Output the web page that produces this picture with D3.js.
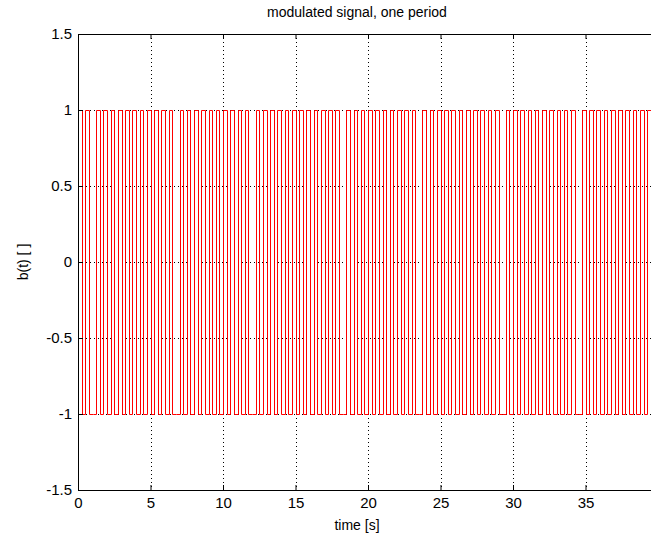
<!DOCTYPE html>
<html>
<head>
<meta charset="utf-8">
<script src="https://cdn.jsdelivr.net/npm/d3@7"></script>
<style>
  body { margin: 0; background: #fff; }
  text { font-family: "Liberation Sans", Arial, sans-serif; }
</style>
</head>
<body>
<svg id="chart" width="651" height="540"></svg>
<script>
// signal: one level per 0.25 s slot (1 = +1, 0 = -1),
// wide low gaps seen near 1, 6.7, 11.7, 17.9, 23.4, 28.8 and 34.6 s
const slotSeconds = 0.25;
const slotBits = [
  "10100",
  "10101010101010101010100",
  "101010101010101010100",
  "1010101010101010101010100",
  "101010101010101010100",
  "10101010101010101010100",
  "101010101010101010100",
  "101010101010101010101"
].join("");
const xTicks = [0, 5, 10, 15, 20, 25, 30, 35];
const yTicks = [-1.5, -1, -0.5, 0, 0.5, 1, 1.5];
const xGrid = [5, 10, 15, 20, 25, 30, 35];
const yGrid = [-1, -0.5, 0, 0.5, 1];

const svg = d3.select("#chart");
const margin = { top: 34, left: 78 };
const plotHeight = 456;
const plotWidth = 580; // right part runs off the picture

const x = d3.scaleLinear().domain([0, 40]).range([0, plotWidth]);
const y = d3.scaleLinear().domain([-1.5, 1.5]).range([plotHeight, 0]);

const graph = svg.append("g")
  .attr("transform", `translate(${margin.left}, ${margin.top})`);

// grid
graph.selectAll("line.vgrid").data(xGrid).enter().append("line")
  .attr("x1", d => Math.round(x(d)) + 0.5).attr("x2", d => Math.round(x(d)) + 0.5)
  .attr("y1", 0).attr("y2", plotHeight)
  .attr("stroke", "#000").attr("stroke-dasharray", "1,3");
graph.selectAll("line.hgrid").data(yGrid).enter().append("line")
  .attr("x1", 0).attr("x2", plotWidth)
  .attr("y1", d => Math.round(y(d)) + 0.5).attr("y2", d => Math.round(y(d)) + 0.5)
  .attr("stroke", "#000").attr("stroke-dasharray", "1,3");

// signal
const points = [];
slotBits.split("").forEach((b, i) => {
  points.push({ t: i * slotSeconds, v: b === "1" ? 1 : -1 });
});
points.push({ t: slotBits.length * slotSeconds, v: points[points.length - 1].v });

const line = d3.line()
  .x(d => Math.round(x(d.t)) + 0.5)
  .y(d => Math.round(y(d.v)) + 0.5)
  .curve(d3.curveStepAfter);

graph.append("path")
  .datum(points)
  .attr("d", line)
  .attr("fill", "none")
  .attr("stroke", "#ff0000")
  .attr("stroke-width", 1);

// axes (ticks inward)
const xAxis = d3.axisBottom(x).tickValues(xTicks).tickSize(-5).tickPadding(4)
  .tickFormat(d => String(d));
const yAxis = d3.axisLeft(y).tickValues(yTicks).tickSize(-5).tickPadding(6)
  .tickFormat(d => String(d));

const xAxisGroup = graph.append("g")
  .attr("transform", `translate(0, ${plotHeight})`).call(xAxis);
const yAxisGroup = graph.append("g").call(yAxis);
const topAxisGroup = graph.append("g")
  .call(d3.axisTop(x).tickValues(xTicks).tickSize(-5).tickFormat(""));

[xAxisGroup, yAxisGroup, topAxisGroup].forEach(g => {
  g.select(".domain").remove();
  g.selectAll("line").attr("stroke", "#000");
  g.selectAll("text").attr("fill", "#000").attr("font-size", 15);
});
xAxisGroup.selectAll("text").attr("dy", "0.9em");

// frame
graph.append("path")
  .attr("d", `M${plotWidth},0.5H0.5V${plotHeight + 0.5}H${plotWidth}`)
  .attr("fill", "none").attr("stroke", "#000");

// labels
svg.append("text")
  .attr("x", 357).attr("y", 17)
  .attr("text-anchor", "middle").attr("font-size", 14)
  .text("modulated signal, one period");
svg.append("text")
  .attr("x", 357).attr("y", 530)
  .attr("text-anchor", "middle").attr("font-size", 14)
  .text("time [s]");
svg.append("text")
  .attr("transform", "translate(28, 262) rotate(-90)")
  .attr("text-anchor", "middle").attr("font-size", 14)
  .text("b(t) [ ]");
</script>
</body>
</html>
